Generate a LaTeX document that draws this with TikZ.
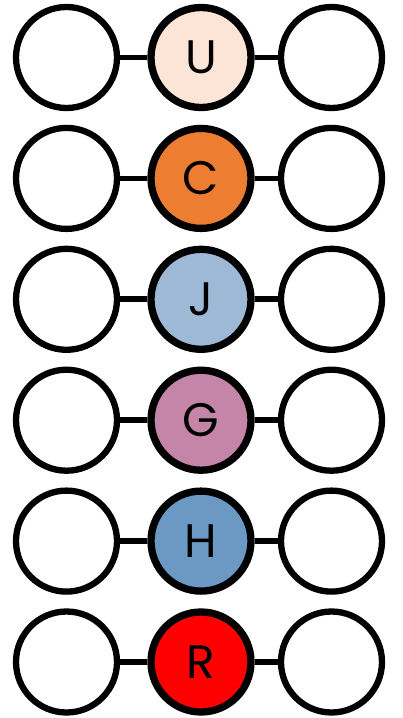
\documentclass[tikz,border=0pt]{standalone}
\usepackage{fontspec}
\setmainfont{Poppins}
\definecolor{cU}{HTML}{FCE4D6}
\definecolor{cC}{HTML}{ED7D31}
\definecolor{cJ}{HTML}{9DB9D5}
\definecolor{cG}{HTML}{C585A8}
\definecolor{cH}{HTML}{6B99C3}
\definecolor{cR}{HTML}{FF0000}
\tikzset{
  side/.style={circle, draw=black, line width=6.3pt, fill=white, minimum size=101pt, inner sep=0pt},
  mid/.style={circle, draw=black, line width=7.3pt, minimum size=100pt, inner sep=0pt, font=\fontsize{47}{50}\selectfont},
  link/.style={line width=5.8pt}
}
\begin{document}
\begin{tikzpicture}[x=1pt,y=-1pt]
\useasboundingbox (0,0) rectangle (403,718);
\foreach \i/\lab/\col in {0/U/cU,1/C/cC,2/J/cJ,3/G/cG,4/H/cH,5/R/cR}{
  \pgfmathsetmacro{\yy}{57.5+120.9*\i}
  \node[side] (l\i) at (66.5,\yy) {};
  \node[mid, fill=\col] (m\i) at (201,\yy) {\lab};
  \node[side] (r\i) at (331.5,\yy) {};
  \draw[link] (l\i) -- (m\i);
  \draw[link] (m\i) -- (r\i);
}
\end{tikzpicture}
\end{document}
